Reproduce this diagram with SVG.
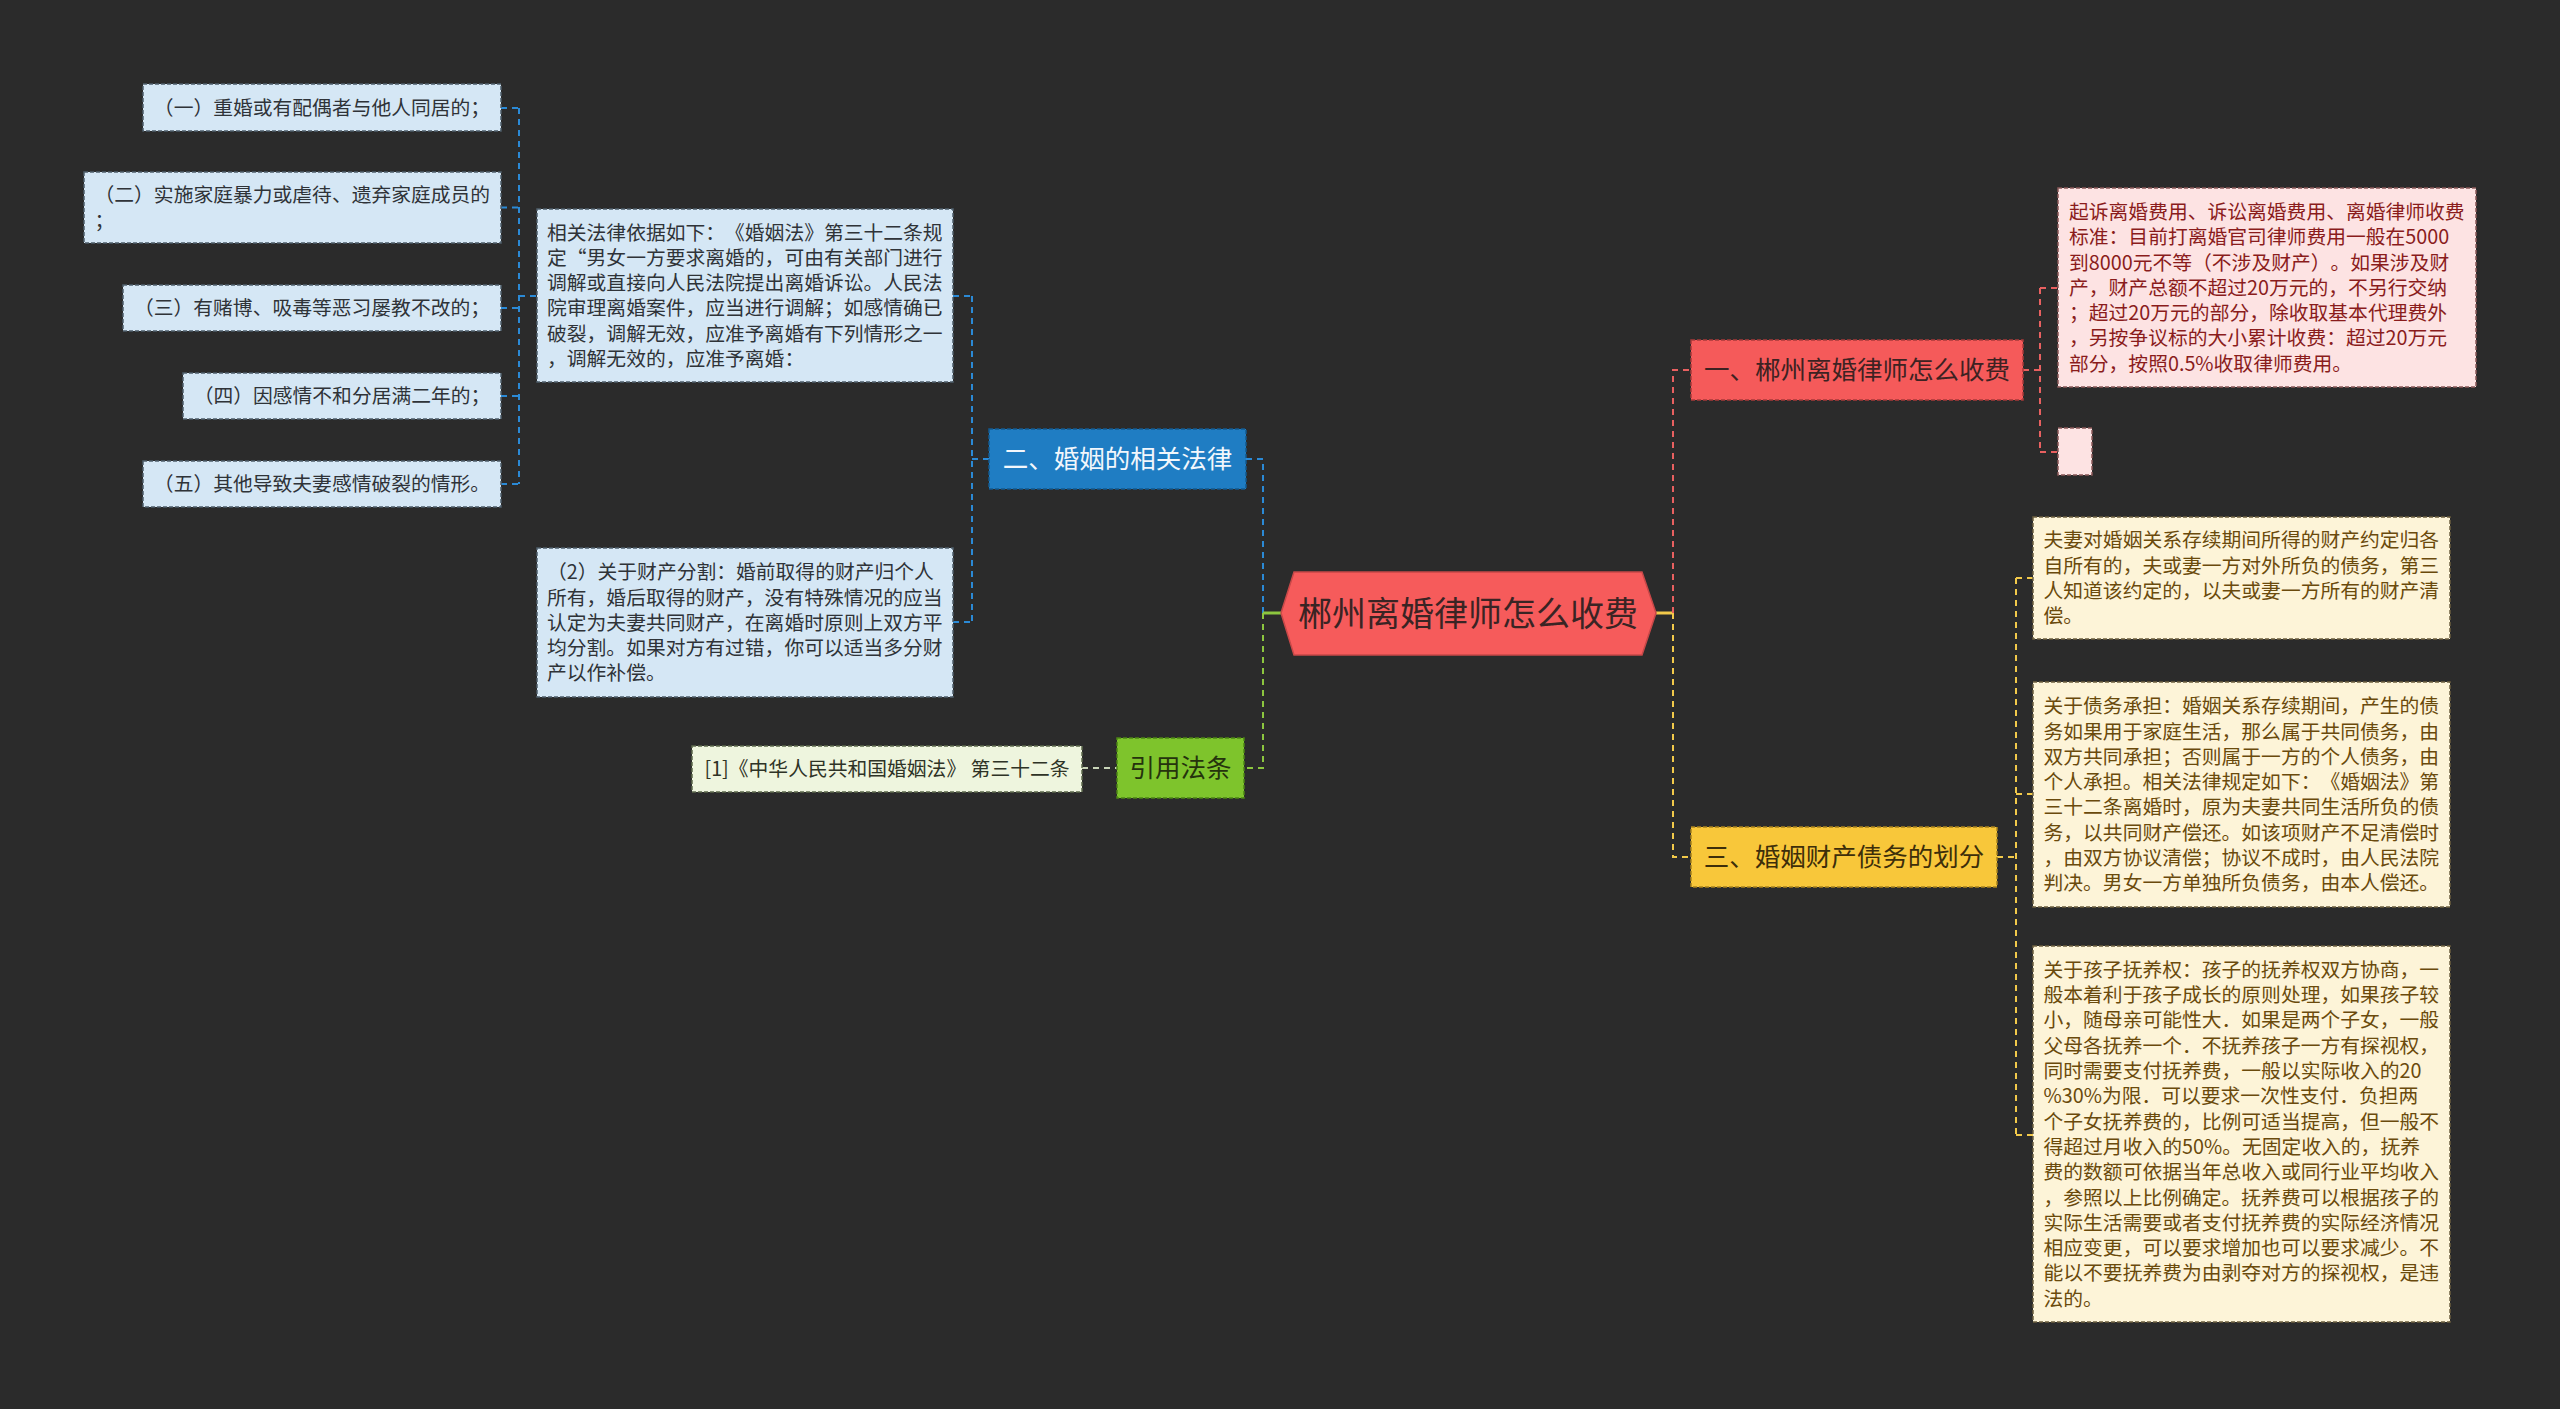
<svg xmlns="http://www.w3.org/2000/svg" width="2560" height="1409" viewBox="0 0 2560 1409">
<style>
text{font-family:"Noto Sans CJK SC","Noto Sans",sans-serif;text-spacing-trim:space-all;font-kerning:none;}
.t{font-size:19.8px;}
.b{font-size:25.5px;}
.leafB{fill:#d5e7f5;stroke:#4f5f6b;stroke-width:1.5;stroke-dasharray:4 2;}
.leafP{fill:#fde3e3;stroke:#8a5a5a;stroke-width:1.5;stroke-dasharray:4 2;}
.leafY{fill:#fdf4d8;stroke:#6e6040;stroke-width:1.5;stroke-dasharray:4 2;}
.leafG{fill:#eef5de;stroke:#5e6a4e;stroke-width:1.5;stroke-dasharray:4 2;}
.tB{fill:#2f3338;}
.tP{fill:#8a1c1c;}
.tY{fill:#6a4a0c;}
.tG{fill:#2e3326;}
.c{fill:none;stroke-width:2;stroke-dasharray:6 5;}
.cb{stroke:#2b8ad6;}
.cr{stroke:#e86060;}
.cy{stroke:#f2c94a;}
.cg{stroke:#8cc63f;}
.cl{stroke:#c8d4b8;}
</style>
<rect width="2560" height="1409" fill="#2b2b2b"/>

<g id="connectors">
  <path class="c cb" d="M501 108H519M501 207.5H519M501 308H519M501 396H519M501 484H519M519 108V484M519 296H537"/>
  <path class="c cb" d="M953 296H972M953 622H972M972 296V622M972 459H989"/>
  <path class="c cb" d="M1246 459H1263V613"/>
  <path class="c cg" d="M1263 613V768H1244"/>
  <path d="M1263 613H1282" stroke="#8cc63f" stroke-width="3" fill="none"/>
  <path class="c cl" d="M1082 768H1117"/>
  <path d="M1656 613H1673" stroke="#f2c94a" stroke-width="3" fill="none"/>
  <path class="c cr" d="M1673 613V370H1691"/>
  <path class="c cy" d="M1673 613V857H1691"/>
  <path class="c cr" d="M2023 370H2040M2040 288V452M2040 288H2058M2040 452H2058"/>
  <path class="c cy" d="M1997 857H2016M2016 578V1135M2016 578H2033M2016 794H2033M2016 1135H2033"/>
</g>

<g id="root">
  <polygon points="1281,613 1294,572 1642,572 1656,613 1642,655 1294,655" fill="#f65b5b" stroke="#c84848" stroke-width="1.5"/>
  <text x="1468" y="625.6" font-size="34" text-anchor="middle" fill="#3a2424">郴州离婚律师怎么收费</text>
</g>

<g id="branch1">
  <rect x="1691" y="340" width="332" height="60" fill="#f55a5a" stroke="#a83a3a" stroke-width="1.5" stroke-dasharray="4 2"/>
  <text class="b" x="1857" y="379.4" text-anchor="middle" fill="#3d2222">一、郴州离婚律师怎么收费</text>
</g>

<g id="branch2">
  <rect x="989" y="429" width="257" height="60" fill="#1f7dc3" stroke="#145a8e" stroke-width="1.5" stroke-dasharray="4 2"/>
  <text class="b" x="1117.5" y="468.4" text-anchor="middle" fill="#f2f7fc">二、婚姻的相关法律</text>
</g>

<g id="branch3">
  <rect x="1691" y="827" width="306" height="60" fill="#f8c73a" stroke="#a8821e" stroke-width="1.5" stroke-dasharray="4 2"/>
  <text class="b" x="1844" y="866.4" text-anchor="middle" fill="#3d2e0a">三、婚姻财产债务的划分</text>
</g>

<g id="branch4">
  <rect x="1117" y="738" width="127" height="60" fill="#7ec42c" stroke="#4c8514" stroke-width="1.5" stroke-dasharray="4 2"/>
  <text class="b" x="1180.5" y="777.4" text-anchor="middle" fill="#25330d">引用法条</text>
</g>

<g id="leaf-l1">
  <rect class="leafB" x="143" y="84" width="358" height="47"/>
  <text class="t tB" x="322" y="115" text-anchor="middle">（一）重婚或有配偶者与他人同居的；</text>
</g>
<g id="leaf-l2">
  <rect class="leafB" x="84" y="172" width="417" height="71"/>
  <text class="t tB"><tspan x="94.5" y="202.2">（二）实施家庭暴力或虐待、遗弃家庭成员的</tspan><tspan x="94.5" y="227.5">；</tspan></text>
</g>
<g id="leaf-l3">
  <rect class="leafB" x="123" y="285" width="378" height="46"/>
  <text class="t tB" x="312" y="315.3" text-anchor="middle">（三）有赌博、吸毒等恶习屡教不改的；</text>
</g>
<g id="leaf-l4">
  <rect class="leafB" x="183" y="373" width="318" height="46"/>
  <text class="t tB" x="342" y="403.3" text-anchor="middle">（四）因感情不和分居满二年的；</text>
</g>
<g id="leaf-l5">
  <rect class="leafB" x="143" y="461" width="358" height="46"/>
  <text class="t tB" x="322" y="491.3" text-anchor="middle">（五）其他导致夫妻感情破裂的情形。</text>
</g>

<g id="leaf-law">
  <rect class="leafB" x="537" y="209" width="416" height="173"/>
  <text class="t tB">
    <tspan x="547" y="239.5">相关法律依据如下：《婚姻法》第三十二条规</tspan>
    <tspan x="547" y="264.8">定“男女一方要求离婚的，可由有关部门进行</tspan>
    <tspan x="547" y="290.1">调解或直接向人民法院提出离婚诉讼。人民法</tspan>
    <tspan x="547" y="315.4">院审理离婚案件，应当进行调解；如感情确已</tspan>
    <tspan x="547" y="340.7">破裂，调解无效，应准予离婚有下列情形之一</tspan>
    <tspan x="547" y="366">，调解无效的，应准予离婚：</tspan>
  </text>
</g>
<g id="leaf-property">
  <rect class="leafB" x="537" y="548" width="416" height="149"/>
  <text class="t tB">
    <tspan x="547" y="579.2">（2）关于财产分割：婚前取得的财产归个人</tspan>
    <tspan x="547" y="604.5">所有，婚后取得的财产，没有特殊情况的应当</tspan>
    <tspan x="547" y="629.8">认定为夫妻共同财产，在离婚时原则上双方平</tspan>
    <tspan x="547" y="655.1">均分割。如果对方有过错，你可以适当多分财</tspan>
    <tspan x="547" y="680.4">产以作补偿。</tspan>
  </text>
</g>

<g id="leaf-ref">
  <rect class="leafG" x="692" y="746" width="390" height="46"/>
  <text class="t tG" x="887" y="776.3" text-anchor="middle">[1]《中华人民共和国婚姻法》 第三十二条</text>
</g>

<g id="leaf-fee">
  <rect class="leafP" x="2058" y="188" width="418" height="199"/>
  <text class="t tP">
    <tspan x="2069" y="218.9">起诉离婚费用、诉讼离婚费用、离婚律师收费</tspan>
    <tspan x="2069" y="244.2">标准：目前打离婚官司律师费用一般在5000</tspan>
    <tspan x="2069" y="269.5">到8000元不等（不涉及财产）。如果涉及财</tspan>
    <tspan x="2069" y="294.8">产，财产总额不超过20万元的，不另行交纳</tspan>
    <tspan x="2069" y="320.1">；超过20万元的部分，除收取基本代理费外</tspan>
    <tspan x="2069" y="345.4">，另按争议标的大小累计收费：超过20万元</tspan>
    <tspan x="2069" y="370.7">部分，按照0.5%收取律师费用。</tspan>
  </text>
</g>
<g id="leaf-empty">
  <rect class="leafP" x="2058" y="428" width="34" height="47"/>
</g>

<g id="leaf-y1">
  <rect class="leafY" x="2033" y="517" width="417" height="122"/>
  <text class="t tY">
    <tspan x="2043.5" y="547.35">夫妻对婚姻关系存续期间所得的财产约定归各</tspan>
    <tspan x="2043.5" y="572.65">自所有的，夫或妻一方对外所负的债务，第三</tspan>
    <tspan x="2043.5" y="597.95">人知道该约定的，以夫或妻一方所有的财产清</tspan>
    <tspan x="2043.5" y="623.25">偿。</tspan>
  </text>
</g>
<g id="leaf-y2">
  <rect class="leafY" x="2033" y="682" width="417" height="225"/>
  <text class="t tY">
    <tspan x="2043.5" y="713.25">关于债务承担：婚姻关系存续期间，产生的债</tspan>
    <tspan x="2043.5" y="738.55">务如果用于家庭生活，那么属于共同债务，由</tspan>
    <tspan x="2043.5" y="763.85">双方共同承担；否则属于一方的个人债务，由</tspan>
    <tspan x="2043.5" y="789.15">个人承担。相关法律规定如下：《婚姻法》第</tspan>
    <tspan x="2043.5" y="814.45">三十二条离婚时，原为夫妻共同生活所负的债</tspan>
    <tspan x="2043.5" y="839.75">务，以共同财产偿还。如该项财产不足清偿时</tspan>
    <tspan x="2043.5" y="865.05">，由双方协议清偿；协议不成时，由人民法院</tspan>
    <tspan x="2043.5" y="890.35">判决。男女一方单独所负债务，由本人偿还。</tspan>
  </text>
</g>
<g id="leaf-y3">
  <rect class="leafY" x="2033" y="946" width="417" height="376"/>
  <text class="t tY">
    <tspan x="2043.5" y="976.85">关于孩子抚养权：孩子的抚养权双方协商，一</tspan>
    <tspan x="2043.5" y="1002.15">般本着利于孩子成长的原则处理，如果孩子较</tspan>
    <tspan x="2043.5" y="1027.45">小，随母亲可能性大．如果是两个子女，一般</tspan>
    <tspan x="2043.5" y="1052.75">父母各抚养一个．不抚养孩子一方有探视权，</tspan>
    <tspan x="2043.5" y="1078.05">同时需要支付抚养费，一般以实际收入的20</tspan>
    <tspan x="2043.5" y="1103.35">%30%为限．可以要求一次性支付．负担两</tspan>
    <tspan x="2043.5" y="1128.65">个子女抚养费的，比例可适当提高，但一般不</tspan>
    <tspan x="2043.5" y="1153.95">得超过月收入的50%。无固定收入的，抚养</tspan>
    <tspan x="2043.5" y="1179.25">费的数额可依据当年总收入或同行业平均收入</tspan>
    <tspan x="2043.5" y="1204.55">，参照以上比例确定。抚养费可以根据孩子的</tspan>
    <tspan x="2043.5" y="1229.85">实际生活需要或者支付抚养费的实际经济情况</tspan>
    <tspan x="2043.5" y="1255.15">相应变更，可以要求增加也可以要求减少。不</tspan>
    <tspan x="2043.5" y="1280.45">能以不要抚养费为由剥夺对方的探视权，是违</tspan>
    <tspan x="2043.5" y="1305.75">法的。</tspan>
  </text>
</g>
</svg>
